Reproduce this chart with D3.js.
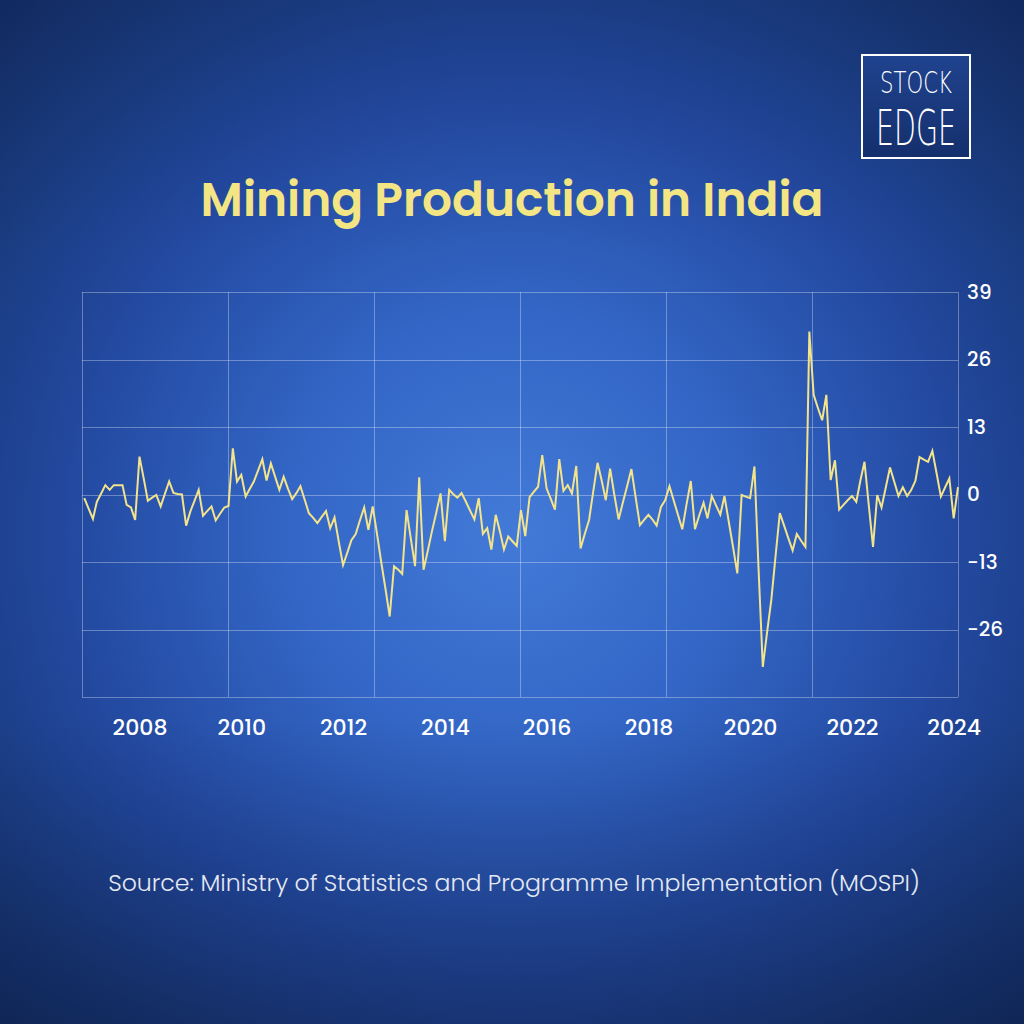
<!DOCTYPE html>
<html><head><meta charset="utf-8">
<script src="https://cdn.jsdelivr.net/npm/d3@7"></script>
<style>
html,body{margin:0;padding:0;background:#16336f;}
svg{display:block;}
</style>
</head><body>
<svg id="chart" width="1024" height="1024"></svg>
<script>
// ---------------- DATA ----------------
const titleText = "Mining Production in India";
const sourceText = "Source: Ministry of Statistics and Programme Implementation (MOSPI)";
const firstMonth = {year: 2006, month: 11}; // December 2006 (month is 0-based)
// Monthly year-on-year change in mining production (%), Dec 2006 .. Feb 2024
const values = [
  -0.7,-2.7,-4.7,-1.4,0.2,1.8,0.9,1.8,1.8,1.8,-2.0,-2.5,
  -4.9,7.3,3.0,-1.2,-0.6,-0.1,-2.3,0.1,2.5,0.3,0.1,0.0,
  -6.0,-3.2,-1.1,0.9,-4.1,-3.2,-2.3,-5.0,-3.7,-2.5,-2.2,8.9,
  2.5,3.8,-0.4,1.0,2.5,4.6,6.8,2.7,6.0,3.4,0.9,3.4,
  1.2,-0.9,0.3,1.6,-1.0,-3.6,-4.5,-5.5,-4.3,-3.2,-6.5,-4.4,
  -9.0,-13.6,-11.2,-8.8,-7.6,-5.0,-2.5,-6.8,-2.3,-7.6,-13.0,-18.2,
  -23.5,-13.8,-14.5,-15.3,-3.0,-8.4,-13.8,3.3,-14.5,-10.8,-7.0,-3.4,
  0.2,-9.0,0.9,0.1,-0.6,0.3,-1.4,-3.1,-4.8,-0.7,-7.6,-6.5,
  -10.6,-3.9,-7.2,-10.6,-8.1,-9.0,-9.9,-3.0,-8.0,-0.5,0.5,1.5,
  7.6,1.2,-0.9,-2.9,6.8,0.7,1.8,0.2,5.5,-10.4,-7.6,-4.9,
  0.6,6.1,2.5,-1.1,5.0,0.0,-4.8,-1.6,1.6,4.9,-0.5,-5.9,
  -4.9,-3.9,-4.9,-6.0,-2.4,-1.1,1.6,-1.1,-3.9,-6.7,-2.0,2.6,
  -6.7,-4.0,-1.6,-4.6,-0.3,-2.1,-3.9,-0.3,-5.3,-10.2,-15.2,-0.1,
  -0.4,-0.7,5.4,-14.0,-33.2,-26.7,-20.3,-12.0,-3.6,-6.0,-8.4,-10.8,
  -7.6,-8.9,-10.1,31.4,19.2,16.7,14.3,19.2,2.8,6.6,-2.9,-2.0,
  -1.1,-0.3,-1.4,2.5,6.3,-1.9,-10.1,-0.1,-2.5,1.4,5.2,2.4,
  -0.3,1.4,-0.3,0.8,2.6,7.2,6.7,6.3,8.4,4.0,-0.4,1.4,
  3.1,-4.6,1.4
];
const yTickValues = [-39,-26,-13,0,13,26,39];
const yTickLabels = ["", "-26", "-13", "0", "13", "26", "39"];
const xTickYears = [2008,2010,2012,2014,2016,2018,2020,2022,2024];
const yDomain = [-39, 39];
const verticalGridCount = 6;

// ---------------- LAYOUT ----------------
const W = 1024, H = 1024;
const frame = {left: 82, right: 958, top: 292, bottom: 697};
const svg = d3.select("#chart");
const defs = svg.append("defs");

// background
const rg = defs.append("radialGradient").attr("id","bg")
  .attr("cx","50%").attr("cy","52%").attr("r","72%");
[[0,"#437ad8"],[0.3,"#3366c6"],[0.6,"#2349a0"],[0.85,"#183878"],[1,"#132c64"]]
  .forEach(([o,c]) => rg.append("stop").attr("offset",o).attr("stop-color",c));
svg.append("rect").attr("width",W).attr("height",H).attr("fill","url(#bg)");
const lg = defs.append("linearGradient").attr("id","shade").attr("x1",0).attr("y1",0).attr("x2",0).attr("y2",1);
[[0,"rgba(8,20,60,0.10)"],[0.25,"rgba(8,20,60,0)"],[0.7,"rgba(8,20,60,0)"],[1,"rgba(8,20,50,0.35)"]]
  .forEach(([o,c]) => lg.append("stop").attr("offset",o).attr("stop-color",c));
svg.append("rect").attr("width",W).attr("height",H).attr("fill","url(#shade)");

// logo
const logoFill = defs.append("linearGradient").attr("id","logoFill").attr("x1",0).attr("y1",0).attr("x2",0).attr("y2",1);
logoFill.append("stop").attr("offset",0).attr("stop-color","#20438f");
logoFill.append("stop").attr("offset",1).attr("stop-color","#142f6c");
const logo = svg.append("g");
logo.append("rect").attr("x",862).attr("y",55).attr("width",108).attr("height",103)
  .attr("fill","url(#logoFill)").attr("stroke","#ffffff").attr("stroke-width",2);
logo.append("text").attr("x",916).attr("y",93).attr("text-anchor","middle")
  .attr("textLength",72).attr("lengthAdjust","spacingAndGlyphs")
  .attr("font-family","DejaVu Sans").attr("font-weight",200).attr("font-size",31)
  .attr("fill","#ffffff").text("STOCK");
logo.append("text").attr("x",916).attr("y",145).attr("text-anchor","middle")
  .attr("textLength",80).attr("lengthAdjust","spacingAndGlyphs")
  .attr("font-family","DejaVu Sans").attr("font-weight",200).attr("font-size",50)
  .attr("fill","#ffffff").text("EDGE");

// helper: fit text to a target width by adjusting font size
function fitWidth(sel, target){
  const fs = parseFloat(sel.attr("font-size"));
  const w = sel.node().getComputedTextLength();
  if (w > 0) sel.attr("font-size", (fs*target/w).toFixed(2));
}

// title
const title = svg.append("text").attr("x",512).attr("y",216).attr("text-anchor","middle")
  .attr("font-family","Poppins, Inter, 'Noto Sans', sans-serif").attr("font-weight",600)
  .attr("font-size",44).attr("fill","#f4e584").text(titleText);
fitWidth(title, 623);

// scales
const dates = values.map((v,i) => new Date(firstMonth.year, firstMonth.month + i, 1));
const x = d3.scaleTime().domain(d3.extent(dates)).range([84.3, frame.right]);
const y = d3.scaleLinear().domain(yDomain).range([frame.bottom, frame.top]);

// grid
const grid = svg.append("g").attr("stroke","rgba(255,255,255,0.32)").attr("stroke-width",1).attr("fill","none");
grid.selectAll("line.h").data(yTickValues).join("line").attr("class","h")
  .attr("x1",frame.left).attr("x2",frame.right)
  .attr("y1",d => Math.round(y(d))+0.5).attr("y2",d => Math.round(y(d))+0.5);
const gx = d3.scaleLinear().domain([0, verticalGridCount]).range([frame.left, frame.right]);
grid.selectAll("line.v").data(d3.range(verticalGridCount+1)).join("line").attr("class","v")
  .attr("y1",frame.top).attr("y2",frame.bottom)
  .attr("x1",d => Math.round(gx(d))+0.5).attr("x2",d => Math.round(gx(d))+0.5);

// y axis labels (right side)
const yAxis = d3.axisRight(y).tickValues(yTickValues)
  .tickFormat((d,i) => yTickLabels[i]).tickSize(0).tickPadding(9);
const yg = svg.append("g").attr("transform",`translate(${frame.right},0)`).call(yAxis);
yg.select(".domain").remove();
yg.selectAll("text").attr("fill","#ffffff").attr("font-family","Poppins, Inter, sans-serif")
  .attr("font-size",20).attr("font-weight",500);

// x axis labels
const xAxis = d3.axisBottom(x).tickValues(xTickYears.map(yr => new Date(yr,0,1)))
  .tickFormat(d3.timeFormat("%Y")).tickSize(0).tickPadding(22);
const xg = svg.append("g").attr("transform",`translate(0,${frame.bottom})`).call(xAxis);
xg.select(".domain").remove();
xg.selectAll("text").attr("fill","#ffffff").attr("font-family","Poppins, Inter, sans-serif")
  .attr("font-size",22).attr("font-weight",500);

// line
const line = d3.line().x((d,i) => x(dates[i])).y(d => y(d));
svg.append("path").datum(values).attr("d",line).attr("fill","none")
  .attr("stroke","#f3e38a").attr("stroke-width",2).attr("stroke-linejoin","miter").attr("stroke-miterlimit",4);

// source
const src = svg.append("text").attr("x",514).attr("y",891).attr("text-anchor","middle")
  .attr("font-family","Poppins, Inter, sans-serif").attr("font-weight",300)
  .attr("font-size",21).attr("fill","#e4e9f3").text(sourceText);
fitWidth(src, 812);
</script>
</body></html>
